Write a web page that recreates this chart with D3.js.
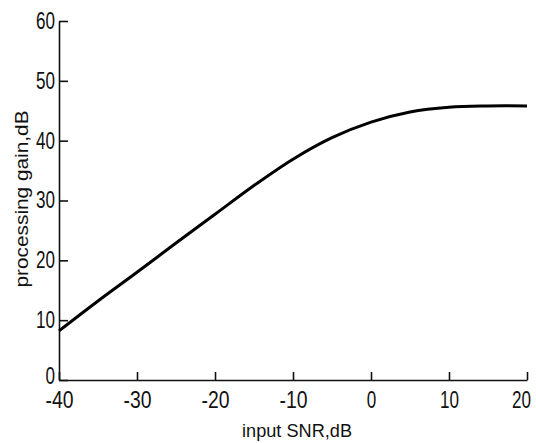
<!DOCTYPE html>
<html>
<head>
<meta charset="utf-8">
<script src="https://cdn.jsdelivr.net/npm/d3@7"></script>
<style>
  body { margin: 0; background: #fff; }
</style>
</head>
<body>
<script>
'use strict';

// curve
const snr = [-40, -35, -30, -25, -20, -15, -10, -5, 0, 5, 10, 15, 20];
const gain = [8.2, 13.2, 18.0, 22.9, 27.7, 32.5, 36.9, 40.5, 43.1, 44.8, 45.6, 45.8, 45.8];

const xTicks = [-40, -30, -20, -10, 0, 10, 20];
const yTicks = [0, 10, 20, 30, 40, 50, 60];

const width = 536, height = 443;

const svg = d3.select('body')
  .append('svg')
  .attr('width', width)
  .attr('height', height);

const x = d3.scaleLinear().domain([-40, 20]).range([59, 527]);
const y = d3.scaleLinear().domain([0, 60]).range([380, 21]);

const fmt = d => d < 0 ? '-' + Math.abs(d) : String(d);

const xAxis = svg.append('g')
  .attr('transform', `translate(0, ${y(0)})`)
  .call(d3.axisBottom(x).tickValues(xTicks).tickSize(-8).tickPadding(12).tickSizeOuter(0)
    .tickFormat(fmt));

const yAxis = svg.append('g')
  .attr('transform', `translate(${x(-40)}, 0)`)
  .call(d3.axisLeft(y).tickValues(yTicks).tickSize(-9).tickPadding(4).tickSizeOuter(0)
    .tickFormat(fmt));

// narrow, tall digits like the scanned figure
const labelLen = s => s.replace('-', '').length * 9.5 + (s[0] === '-' ? 9 : 0);

[xAxis, yAxis].forEach(a => {
  a.attr('font-family', 'Liberation Sans, sans-serif');
  a.select('.domain').attr('stroke', '#111').attr('stroke-width', 1.6);
  a.selectAll('.tick line').attr('stroke', '#111').attr('stroke-width', 1.6);
  a.selectAll('.tick text')
    .attr('fill', '#111')
    .attr('font-size', 23)
    .attr('lengthAdjust', 'spacingAndGlyphs')
    .attr('textLength', function () { return labelLen(this.textContent); });
});
xAxis.selectAll('.tick text').attr('dy', '0.71em');
// last label sits a little left of its tick, the 0 a little above the axis
xAxis.selectAll('.tick text').filter(d => d === 20).attr('x', -6);
yAxis.selectAll('.tick text').filter(d => d === 0).attr('y', -4);

const line = d3.line()
  .x((d, i) => x(snr[i]))
  .y(d => y(d))
  .curve(d3.curveCatmullRom);

svg.append('path')
  .datum(gain)
  .attr('d', line)
  .attr('fill', 'none')
  .attr('stroke', '#000')
  .attr('stroke-width', 3);

svg.append('text')
  .attr('x', 297)
  .attr('y', 437)
  .attr('text-anchor', 'middle')
  .attr('font-family', 'Liberation Sans, sans-serif')
  .attr('font-size', 19)
  .attr('textLength', 110)
  .attr('lengthAdjust', 'spacingAndGlyphs')
  .attr('fill', '#111')
  .text('input SNR,dB');

svg.append('text')
  .attr('transform', 'translate(28, 199) rotate(-90)')
  .attr('text-anchor', 'middle')
  .attr('font-family', 'Liberation Sans, sans-serif')
  .attr('font-size', 19)
  .attr('textLength', 177)
  .attr('lengthAdjust', 'spacingAndGlyphs')
  .attr('fill', '#111')
  .text('processing gain,dB');
</script>
</body>
</html>
